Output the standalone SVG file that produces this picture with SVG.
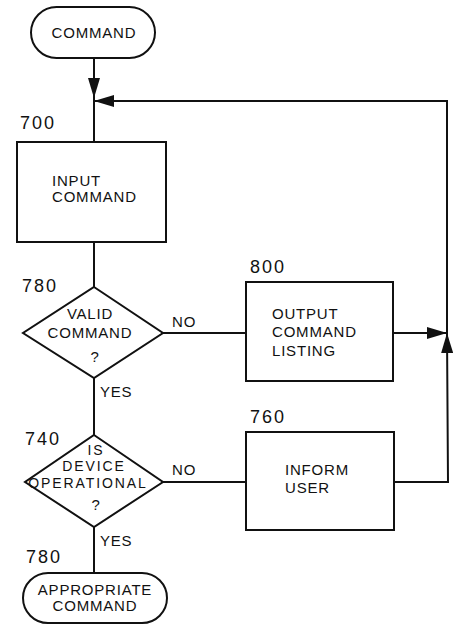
<svg xmlns="http://www.w3.org/2000/svg" width="458" height="624" viewBox="0 0 458 624">
<style>
.s{fill:#fff;stroke:#111;stroke-width:2}
.c{fill:none;stroke:#111;stroke-width:2}
text{font-family:"Liberation Sans",Arial,sans-serif;fill:#111}
.t{font-size:15px;letter-spacing:0.8px}
.u{font-size:14px;letter-spacing:1.9px}
.n{font-size:18px;letter-spacing:2px}
.m{text-anchor:middle}
</style>
<defs>
<marker id="ah" viewBox="0 0 20 12" refX="20" refY="6" markerWidth="20" markerHeight="12" markerUnits="userSpaceOnUse" orient="auto">
<path d="M0,0 L20,6 L0,12 Z" fill="#111"/>
</marker>
</defs>
<g id="connectors">
<line class="c" x1="94" y1="58" x2="94" y2="98" marker-end="url(#ah)"/>
<line class="c" x1="94" y1="98" x2="94" y2="142"/>
<polyline class="c" points="447,333 447,101 94,101" marker-end="url(#ah)"/>
<line class="c" x1="94" y1="242" x2="94" y2="287"/>
<line class="c" x1="163" y1="333" x2="246" y2="333"/>
<line class="c" x1="393" y1="333" x2="447" y2="333" marker-end="url(#ah)"/>
<line class="c" x1="94" y1="378" x2="94" y2="435"/>
<line class="c" x1="163" y1="482" x2="246" y2="482"/>
<polyline class="c" points="394,482 448,482 447,333" marker-end="url(#ah)"/>
<line class="c" x1="94" y1="527" x2="94" y2="573"/>
<text class="t" x="172" y="327">NO</text>
<text class="t" x="100" y="397">YES</text>
<text class="t" x="172" y="475">NO</text>
<text class="t" x="100" y="546">YES</text>
</g>
<g id="start">
<rect class="s" x="31" y="7" width="124" height="51" rx="25.5"/>
<text class="t m" x="94" y="38">COMMAND</text>
</g>
<g id="n700">
<text class="n" x="20" y="129">700</text>
<rect class="s" x="17" y="142" width="149" height="100"/>
<text class="t" x="52" y="186">INPUT</text>
<text class="t" x="52" y="202">COMMAND</text>
</g>
<g id="d780">
<text class="n" x="22" y="292">780</text>
<polygon class="s" points="94,287 163,333 94,378 23,333"/>
<text class="t m" x="90" y="319">VALID</text>
<text class="t m" x="90" y="338">COMMAND</text>
<text class="t m" x="95" y="362">?</text>
</g>
<g id="n800">
<text class="n" x="250" y="273">800</text>
<rect class="s" x="246" y="282" width="147" height="99"/>
<text class="t" x="272" y="319">OUTPUT</text>
<text class="t" x="272" y="337">COMMAND</text>
<text class="t" x="272" y="356">LISTING</text>
</g>
<g id="d740">
<text class="n" x="25" y="445">740</text>
<polygon class="s" points="94,435 163,482 94,527 25,482"/>
<text class="u m" x="96" y="455">IS</text>
<text class="u m" x="94" y="471">DEVICE</text>
<text class="u m" x="88" y="488">OPERATIONAL</text>
<text class="t m" x="96" y="510">?</text>
</g>
<g id="n760">
<text class="n" x="250" y="423">760</text>
<rect class="s" x="246" y="432" width="148" height="98"/>
<text class="t" x="285" y="475">INFORM</text>
<text class="t" x="285" y="493">USER</text>
</g>
<g id="end">
<text class="n" x="26" y="563">780</text>
<rect class="s" x="23" y="573" width="144" height="50" rx="25"/>
<text class="t m" x="95" y="595">APPROPRIATE</text>
<text class="t m" x="95" y="611">COMMAND</text>
</g>
</svg>
